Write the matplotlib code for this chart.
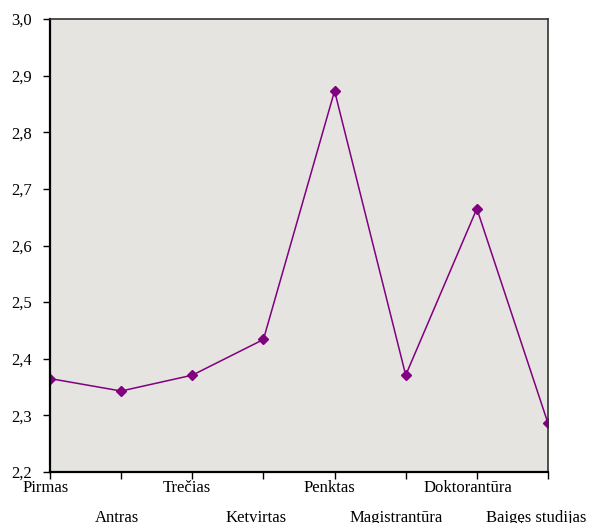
import numpy as np
import matplotlib.pyplot as plt

# Kursai ir vidutinės reikšmės
labels = ['Pirmas', 'Antras', 'Trečias', 'Ketvirtas', 'Penktas',
          'Magistrantūra', 'Doktorantūra', 'Baigęs studijas']
values = [2.365, 2.343, 2.371, 2.434, 2.873, 2.371, 2.665, 2.286]
yticks = [2.2, 2.3, 2.4, 2.5, 2.6, 2.7, 2.8, 2.9, 3.0]

plt.rcParams['font.family'] = ['Liberation Serif', 'DejaVu Serif']

fig = plt.figure(figsize=(5.9, 5.23), dpi=100)
ax = fig.add_axes([50 / 590, 51 / 523, 498 / 590, 453 / 523])
ax.set_facecolor('#E6E4E0')

x = np.arange(len(labels))
ax.plot(x, values, color='#800080', lw=1.1, marker='D', ms=5.5,
        markerfacecolor='#800080', markeredgecolor='#800080')

ax.set_xlim(0, len(labels) - 1)
ax.set_ylim(2.2, 3.0)
ax.set_yticks(yticks)
ax.set_yticklabels([f'{v:.1f}'.replace('.', ',') for v in yticks], fontsize=12)

# pakopinės x ašies žymės (dvi eilutės)
ax.set_xticks(x)
ax.set_xticklabels([])
for i, l in enumerate(labels):
    dy = -6 if i % 2 == 0 else -27
    ax.annotate(l, xy=(x[i], 0), xycoords=('data', 'axes fraction'),
                xytext=(-0.55 * len(l), dy), textcoords='offset points',
                ha='center', va='top', fontsize=12, annotation_clip=False)

ax.tick_params(axis='both', direction='out', length=5, width=1, color='black')
ax.tick_params(axis='y', pad=8)
for s in ['left', 'bottom']:
    ax.spines[s].set_linewidth(1.6)
    ax.spines[s].set_color('black')
for s in ['top', 'right']:
    ax.spines[s].set_linewidth(1.2)
    ax.spines[s].set_color('#333333')

fig.savefig('out.png', dpi=100)
